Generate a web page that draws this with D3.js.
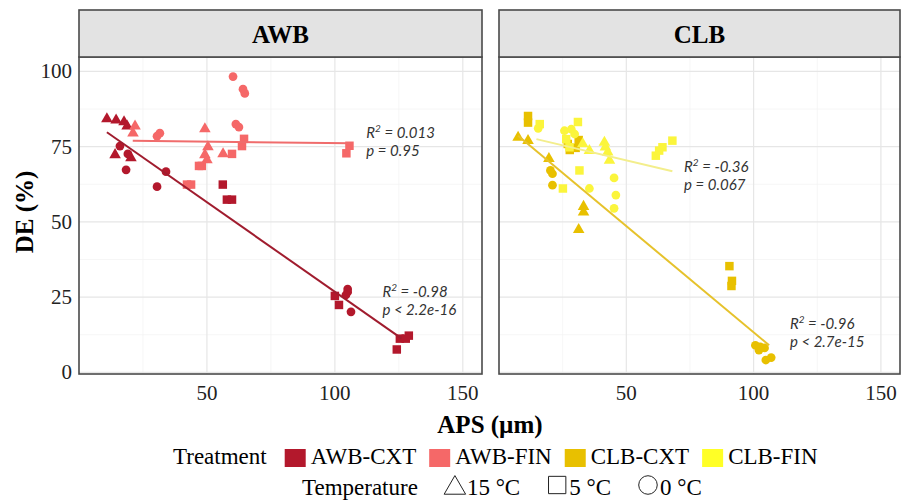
<!DOCTYPE html>
<html>
<head>
<meta charset="utf-8">
<script src="https://cdn.jsdelivr.net/npm/d3@7"></script>
<style>
    body { margin: 0; background: #fff; }
    text { font-family: "Liberation Serif", "Times New Roman", serif; }
    .stat { font-family: Lato, "Open Sans", sans-serif; font-style: italic; font-size: 15px; fill: #333; }
</style>
</head>
<body>
<svg id="chart" width="903" height="502"></svg>
<script>
// APS (um) / DE (%) / temperature (C) per treatment
var apsAwbCxt = [10.9, 14.5, 17.6, 18.8, 14.1, 20.3, 16.0, 19.1, 18.4, 30.5, 34.0, 105.0, 105.0, 104.3, 106.3, 56.2, 57.8, 59.8, 100.0, 101.6, 125.4, 124.2, 128.9, 127.7];
var deAwbCxt  = [84.2, 83.8, 83.2, 81.8, 72.3, 71.3, 75.2, 72.6, 67.3, 61.7, 66.7, 27.7, 26.7, 25.7, 20.1, 62.4, 57.4, 57.4, 25.4, 22.4, 11.2, 7.6, 12.2, 11.2];
var tempAwbCxt = [15, 15, 15, 15, 15, 15, 0, 0, 0, 0, 0, 0, 0, 0, 0, 5, 5, 5, 5, 5, 5, 5, 5, 5];

var apsAwbFin = [21.9, 21.1, 49.2, 50.4, 49.2, 50.0, 56.3, 60.2, 64.1, 64.8, 61.3, 62.5, 31.6, 30.5, 59.8, 48.0, 46.9, 43.8, 42.2, 63.7, 64.5, 105.7, 104.5];
var deAwbFin  = [81.8, 79.5, 80.9, 74.9, 72.3, 70.6, 72.6, 98.3, 94.1, 92.7, 82.5, 81.5, 79.5, 78.5, 72.6, 68.6, 68.6, 62.4, 62.4, 75.2, 77.6, 75.3, 72.8];
var tempAwbFin = [15, 15, 15, 15, 15, 15, 15, 0, 0, 0, 0, 0, 0, 0, 5, 5, 5, 5, 5, 5, 5, 5, 5];

var apsClbCxt = [11.4, 11.4, 27.0, 30.1, 27.8, 31.3, 90.5, 91.5, 91.3, 7.5, 11.4, 19.6, 33.2, 33.2, 31.3, 20.2, 21.0, 21.0, 100.7, 102.6, 104.3, 102.1, 104.8, 106.9];
var deClbCxt  = [85.2, 83.0, 75.9, 74.6, 73.9, 77.2, 35.3, 30.4, 28.7, 78.1, 77.0, 71.0, 55.1, 53.2, 47.4, 67.1, 66.0, 62.2, 9.0, 8.5, 8.1, 7.4, 4.1, 4.9];
var tempClbCxt = [5, 5, 5, 5, 5, 5, 5, 5, 5, 15, 15, 15, 15, 15, 15, 0, 0, 0, 0, 0, 0, 0, 0, 0];

var apsClbFin = [16.0, 15.4, 31.0, 25.7, 28.4, 26.4, 29.7, 27.7, 32.9, 35.5, 41.4, 41.8, 42.7, 43.4, 31.6, 25.1, 35.5, 45.2, 45.9, 45.2, 61.6, 62.9, 64.2, 68.1];
var deClbFin  = [82.5, 81.1, 83.2, 80.3, 80.8, 77.5, 79.2, 74.8, 75.9, 73.7, 76.4, 74.8, 73.2, 70.4, 67.1, 61.1, 61.1, 64.6, 58.9, 54.5, 72.0, 73.7, 74.8, 77.0];
var tempClbFin = [5, 0, 5, 0, 0, 5, 0, 5, 15, 15, 15, 15, 15, 15, 5, 5, 0, 0, 0, 0, 5, 5, 5, 5];

var treatments = ["AWB-CXT", "AWB-FIN", "CLB-CXT", "CLB-FIN"];
var temperatures = [15, 5, 0];
var temperatureLabels = ["15 \u00B0C", "5 \u00B0C", "0 \u00B0C"];
var xTicks = [50, 100, 150];
var yTicks = [0, 25, 50, 75, 100];

// linear fit lines as drawn in the figure: APS at both ends and DE there
var fitApsFrom = [10.9, 21.0, 7.5, 14.7];
var fitApsTo   = [126.0, 106.2, 106.1, 68.1];
var fitDeFrom  = [79.8, 77.0, 78.6, 77.5];
var fitDeTo    = [11.3, 76.1, 9.0, 66.8];

// fit statistics printed next to each line
var statR2 = ["0.013", "-0.98", "-0.36", "-0.96"];
var statP = ["p = 0.95", "p < 2.2e-16", "p = 0.067", "p < 2.7e-15"];
var statAt = [[112.3, 77.9], [118.6, 25.2], [72.7, 66.7], [114.3, 14.4]];

var pointColor = { "AWB-CXT": "#b3182c", "AWB-FIN": "#f56868", "CLB-CXT": "#e8c000", "CLB-FIN": "#fbf53c" };
var swatchColor = { "AWB-CXT": "#b3182c", "AWB-FIN": "#f56868", "CLB-CXT": "#e8c000", "CLB-FIN": "#ffff26" };
var lineColor = { "AWB-CXT": "#a01c2e", "AWB-FIN": "#f06c6c", "CLB-CXT": "#e6c22c", "CLB-FIN": "#f3ee8c" };

function rows(aps, de, temp, t) {
    return aps.map(function (v, i) { return { aps: v, de: de[i], temp: temp[i], treatment: t }; });
}

var series = [
    rows(apsAwbCxt, deAwbCxt, tempAwbCxt, "AWB-CXT"),
    rows(apsAwbFin, deAwbFin, tempAwbFin, "AWB-FIN"),
    rows(apsClbCxt, deClbCxt, tempClbCxt, "CLB-CXT"),
    rows(apsClbFin, deClbFin, tempClbFin, "CLB-FIN")
];

var panels = [
    { name: "AWB", x0: 79, x1: 482, series: [0, 1] },
    { name: "CLB", x0: 499, x1: 900, series: [2, 3] }
];

var panelTop = 57, panelBottom = 374, stripTop = 10;

var svg = d3.select("#chart");

var y = d3.scaleLinear().domain([-0.55, 104.8]).range([panelBottom, panelTop]);

var shapeOf = d3.scaleOrdinal().domain(temperatures).range([d3.symbolTriangle, d3.symbolSquare, d3.symbolCircle]);
var sizeOf = d3.scaleOrdinal().domain(temperatures).range([58, 72, 60]);

panels.forEach(function (p) {
    var x = d3.scaleLinear().domain([0, 157.5]).range([p.x0, p.x1]);
    var g = svg.append("g");

    // grid
    g.selectAll(".minorX").data([25, 75, 125]).enter().append("line")
        .attr("x1", function (d) { return x(d); }).attr("x2", function (d) { return x(d); })
        .attr("y1", panelTop).attr("y2", panelBottom)
        .attr("stroke", "#f2f2f2").attr("stroke-width", 0.7);
    g.selectAll(".minorY").data([12.5, 37.5, 62.5, 87.5]).enter().append("line")
        .attr("x1", p.x0).attr("x2", p.x1)
        .attr("y1", function (d) { return y(d); }).attr("y2", function (d) { return y(d); })
        .attr("stroke", "#f2f2f2").attr("stroke-width", 0.7);
    g.selectAll(".majorX").data(xTicks).enter().append("line")
        .attr("x1", function (d) { return x(d); }).attr("x2", function (d) { return x(d); })
        .attr("y1", panelTop).attr("y2", panelBottom)
        .attr("stroke", "#e6e6e6").attr("stroke-width", 1.2);
    g.selectAll(".majorY").data(yTicks).enter().append("line")
        .attr("x1", p.x0).attr("x2", p.x1)
        .attr("y1", function (d) { return y(d); }).attr("y2", function (d) { return y(d); })
        .attr("stroke", "#e6e6e6").attr("stroke-width", 1.2);

    // points
    p.series.forEach(function (si) {
        g.selectAll(null).data(series[si]).enter().append("path")
            .attr("transform", function (d) { return "translate(" + x(d.aps) + "," + y(d.de) + ")"; })
            .attr("d", function (d) { return d3.symbol().type(shapeOf(d.temp)).size(sizeOf(d.temp))(); })
            .attr("fill", function (d) { return pointColor[d.treatment]; });
    });

    // fit lines and their stats
    p.series.forEach(function (si) {
        var seg = [[fitApsFrom[si], fitDeFrom[si]], [fitApsTo[si], fitDeTo[si]]];
        g.append("path")
            .attr("d", d3.line().x(function (d) { return x(d[0]); }).y(function (d) { return y(d[1]); })(seg))
            .attr("fill", "none")
            .attr("stroke", lineColor[treatments[si]])
            .attr("stroke-width", 2);

        var t = g.append("text").attr("class", "stat")
            .attr("x", x(statAt[si][0])).attr("y", y(statAt[si][1]));
        t.append("tspan").text("R");
        t.append("tspan").attr("font-size", "10px").attr("dy", -6).text("2");
        t.append("tspan").attr("dy", 6).text(" = " + statR2[si]);
        g.append("text").attr("class", "stat")
            .attr("x", x(statAt[si][0])).attr("y", y(statAt[si][1]) + 18)
            .text(statP[si]);
    });

    // panel border
    g.append("rect")
        .attr("x", p.x0).attr("y", panelTop)
        .attr("width", p.x1 - p.x0).attr("height", panelBottom - panelTop)
        .attr("fill", "none").attr("stroke", "#4a4a4a").attr("stroke-width", 1.6);

    // strip
    g.append("rect")
        .attr("x", p.x0).attr("y", stripTop)
        .attr("width", p.x1 - p.x0).attr("height", panelTop - stripTop)
        .attr("fill", "#e3e3e3").attr("stroke", "#4a4a4a").attr("stroke-width", 1.6);
    g.append("text")
        .attr("x", (p.x0 + p.x1) / 2).attr("y", 43)
        .attr("text-anchor", "middle")
        .attr("font-weight", "bold").attr("font-size", "25px")
        .text(p.name);

    // x tick labels
    g.selectAll(".xt").data(xTicks).enter().append("text")
        .attr("x", function (d) { return x(d); }).attr("y", 400)
        .attr("text-anchor", "middle").attr("font-size", "21px").attr("fill", "#222")
        .text(function (d) { return d; });
});

// y tick labels (left panel only)
svg.selectAll(".yt").data(yTicks).enter().append("text")
    .attr("x", 72).attr("y", function (d) { return y(d) + 7; })
    .attr("text-anchor", "end").attr("font-size", "21px").attr("fill", "#222")
    .text(function (d) { return d; });

// axis titles
svg.append("text")
    .attr("transform", "translate(33,212) rotate(-90)")
    .attr("text-anchor", "middle").attr("font-weight", "bold").attr("font-size", "25px")
    .text("DE (%)");
svg.append("text")
    .attr("x", 490).attr("y", 433)
    .attr("text-anchor", "middle").attr("font-weight", "bold").attr("font-size", "25px")
    .text("APS (\u00B5m)");

// legend: treatment
var lg = svg.append("g").attr("font-size", "23px");
var cx = 173;
var title1 = lg.append("text").attr("x", cx).attr("y", 464).text("Treatment");
cx += title1.node().getComputedTextLength() + 18;
treatments.forEach(function (t) {
    lg.append("rect").attr("x", cx).attr("y", 449).attr("width", 21).attr("height", 18)
        .attr("fill", swatchColor[t]);
    var lab = lg.append("text").attr("x", cx + 26).attr("y", 464).text(t);
    cx += 26 + lab.node().getComputedTextLength() + 13;
});

// legend: temperature
cx = 302;
var title2 = lg.append("text").attr("x", cx).attr("y", 495).text("Temperature");
cx += title2.node().getComputedTextLength() + 26;
var keySize = d3.scaleOrdinal().domain(temperatures).range([200, 300, 270]);
temperatures.forEach(function (t, i) {
    lg.append("path")
        .attr("transform", "translate(" + (cx + 11) + "," + (t === 15 ? 488 : 485) + ")")
        .attr("d", d3.symbol().type(shapeOf(t)).size(keySize(t))())
        .attr("fill", "none").attr("stroke", "#222").attr("stroke-width", 1);
    var lab = lg.append("text").attr("x", cx + 23).attr("y", 495).text(temperatureLabels[i]);
    cx += 23 + lab.node().getComputedTextLength() + 26;
});
</script>
</body>
</html>
